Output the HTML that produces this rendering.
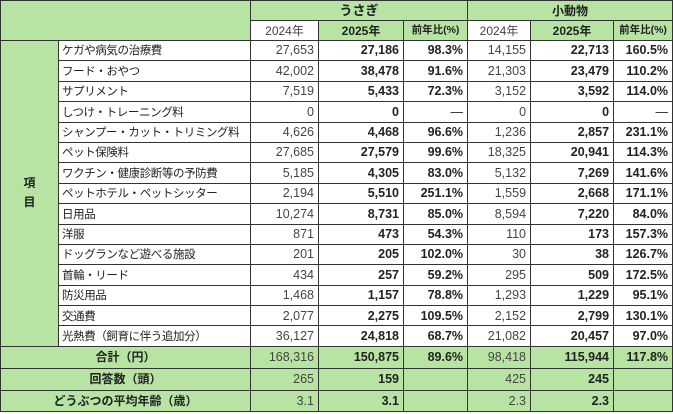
<!DOCTYPE html>
<html><head><meta charset="utf-8"><style>
html,body{margin:0;padding:0;background:#fff;}
table{border-collapse:collapse;table-layout:fixed;width:672px;font-family:"Liberation Sans","Noto Sans CJK JP",sans-serif;font-size:12px;color:#222;}
td{border:1px solid #333;padding:0 4px;white-space:nowrap;overflow:hidden;line-height:1;vertical-align:middle;}
td.l{font-size:11.5px;letter-spacing:-0.4px;padding:3px 0 0 3px;}
.g{background:#b7e4a3;}
.r{text-align:right;font-size:12.5px;}
.c{text-align:center;}
.b{font-weight:bold;}
.n{color:#444;}
tr.d td{height:19.4px;}
tr.d td.l{height:16.4px;}
</style></head><body>
<table>
<colgroup><col style="width:58px"><col style="width:192px"><col style="width:68px"><col style="width:85px"><col style="width:64px"><col style="width:63px"><col style="width:83px"><col style="width:59px"></colgroup>
<tr style="height:20px"><td class="g" colspan="2" rowspan="2"></td><td class="g c b" colspan="3" style="font-size:13px">うさぎ</td><td class="g c b" colspan="3">小動物</td></tr>
<tr style="height:20px"><td class="c n">2024年</td><td class="g c b">2025年</td><td class="g c b" style="font-size:10.5px;padding:0 2px">前年比(%)</td><td class="c n">2024年</td><td class="g c b">2025年</td><td class="g c b" style="font-size:10.5px;padding:0 2px">前年比(%)</td></tr>
<tr class="d"><td class="g c b" rowspan="15" style="line-height:1.6">項<br>目</td><td class="l">ケガや病気の治療費</td><td class="r n">27,653</td><td class="r b">27,186</td><td class="r b">98.3%</td><td class="r n">14,155</td><td class="r b">22,713</td><td class="r b">160.5%</td></tr>
<tr class="d"><td class="l">フード・おやつ</td><td class="r n">42,002</td><td class="r b">38,478</td><td class="r b">91.6%</td><td class="r n">21,303</td><td class="r b">23,479</td><td class="r b">110.2%</td></tr>
<tr class="d"><td class="l">サプリメント</td><td class="r n">7,519</td><td class="r b">5,433</td><td class="r b">72.3%</td><td class="r n">3,152</td><td class="r b">3,592</td><td class="r b">114.0%</td></tr>
<tr class="d"><td class="l">しつけ・トレーニング料</td><td class="r n">0</td><td class="r b">0</td><td class="r">―</td><td class="r n">0</td><td class="r b">0</td><td class="r">―</td></tr>
<tr class="d"><td class="l">シャンプー・カット・トリミング料</td><td class="r n">4,626</td><td class="r b">4,468</td><td class="r b">96.6%</td><td class="r n">1,236</td><td class="r b">2,857</td><td class="r b">231.1%</td></tr>
<tr class="d"><td class="l">ペット保険料</td><td class="r n">27,685</td><td class="r b">27,579</td><td class="r b">99.6%</td><td class="r n">18,325</td><td class="r b">20,941</td><td class="r b">114.3%</td></tr>
<tr class="d"><td class="l">ワクチン・健康診断等の予防費</td><td class="r n">5,185</td><td class="r b">4,305</td><td class="r b">83.0%</td><td class="r n">5,132</td><td class="r b">7,269</td><td class="r b">141.6%</td></tr>
<tr class="d"><td class="l">ペットホテル・ペットシッター</td><td class="r n">2,194</td><td class="r b">5,510</td><td class="r b">251.1%</td><td class="r n">1,559</td><td class="r b">2,668</td><td class="r b">171.1%</td></tr>
<tr class="d"><td class="l">日用品</td><td class="r n">10,274</td><td class="r b">8,731</td><td class="r b">85.0%</td><td class="r n">8,594</td><td class="r b">7,220</td><td class="r b">84.0%</td></tr>
<tr class="d"><td class="l">洋服</td><td class="r n">871</td><td class="r b">473</td><td class="r b">54.3%</td><td class="r n">110</td><td class="r b">173</td><td class="r b">157.3%</td></tr>
<tr class="d"><td class="l">ドッグランなど遊べる施設</td><td class="r n">201</td><td class="r b">205</td><td class="r b">102.0%</td><td class="r n">30</td><td class="r b">38</td><td class="r b">126.7%</td></tr>
<tr class="d"><td class="l">首輪・リード</td><td class="r n">434</td><td class="r b">257</td><td class="r b">59.2%</td><td class="r n">295</td><td class="r b">509</td><td class="r b">172.5%</td></tr>
<tr class="d"><td class="l">防災用品</td><td class="r n">1,468</td><td class="r b">1,157</td><td class="r b">78.8%</td><td class="r n">1,293</td><td class="r b">1,229</td><td class="r b">95.1%</td></tr>
<tr class="d"><td class="l">交通費</td><td class="r n">2,077</td><td class="r b">2,275</td><td class="r b">109.5%</td><td class="r n">2,152</td><td class="r b">2,799</td><td class="r b">130.1%</td></tr>
<tr class="d"><td class="l">光熱費（飼育に伴う追加分）</td><td class="r n">36,127</td><td class="r b">24,818</td><td class="r b">68.7%</td><td class="r n">21,082</td><td class="r b">20,457</td><td class="r b">97.0%</td></tr>
<tr style="height:22px" class="g"><td class="c b" colspan="2">合計（円）</td><td class="r n">168,316</td><td class="r b">150,875</td><td class="r b">89.6%</td><td class="r n">98,418</td><td class="r b">115,944</td><td class="r b">117.8%</td></tr>
<tr style="height:22px" class="g"><td class="c b" colspan="2">回答数（頭）</td><td class="r n">265</td><td class="r b">159</td><td></td><td class="r n">425</td><td class="r b">245</td><td></td></tr>
<tr style="height:21px" class="g"><td class="c b" colspan="2">どうぶつの平均年齢（歳）</td><td class="r n">3.1</td><td class="r b">3.1</td><td></td><td class="r n">2.3</td><td class="r b">2.3</td><td></td></tr>
</table>
</body></html>
